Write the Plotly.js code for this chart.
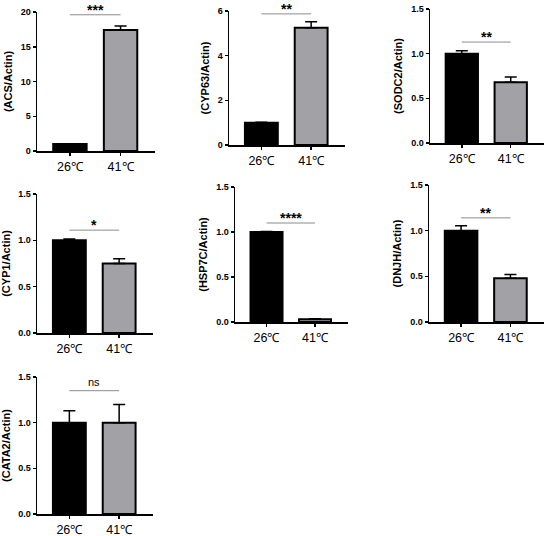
<!DOCTYPE html>
<html>
<head>
<meta charset="utf-8">
<script src="https://cdn.plot.ly/plotly-3.0.1.min.js"></script>
<style>html,body{margin:0;padding:0;background:#fff;}</style>
</head>
<body>
<div id="chart" style="width:550px;height:536px;"></div>
<script>
const genes = ['ACS','CYP63','SODC2','CYP1','HSP7C','DNJH','CATA2'];
const groups = ['26℃','41℃'];
const mean26 = [1.0, 1.0, 1.0, 1.0, 1.0, 1.0, 1.0];
const mean41 = [17.4, 5.25, 0.68, 0.75, 0.03, 0.48, 1.0];
const err26 = [0.05, 0.02, 0.033, 0.015, 0.005, 0.055, 0.13];
const err41 = [0.6, 0.27, 0.06, 0.05, 0.005, 0.04, 0.2];
const sigText = ['***','**','**','*','****','**','ns'];
const sigLevel = [19.6, 5.87, 1.13, 1.11, 1.10, 1.14, 1.35];
const yMax = [20, 6, 1.5, 1.5, 1.5, 1.5, 1.5];
const yStep = [5, 2, 0.5, 0.5, 0.5, 0.5, 0.5];

// panel boxes in pixels: [left, right, top, bottom]
const boxes = [[37,155,12,151],[229,345,11,145],[430,544,9,143],
               [37,153,194,333],[235,348,187,322],[429,544,185,322],
               [37,153,377,514]];
const W = 550, H = 536;
const FONT = '"Liberation Sans", Arial, sans-serif';

const data = [];
const layout = {
  width: W, height: H,
  margin: {l:0, r:0, t:0, b:0},
  paper_bgcolor: '#fff', plot_bgcolor: '#fff',
  showlegend: false,
  font: {family: FONT, color: '#000'},
  shapes: [], annotations: []
};

genes.forEach((g, i) => {
  const n = i === 0 ? '' : String(i + 1);
  const xa = 'x' + n, ya = 'y' + n;
  data.push({
    type: 'bar', x: groups, y: [mean26[i], mean41[i]],
    xaxis: xa, yaxis: ya, width: 0.66,
    marker: {color: ['#000000', '#a2a2a6'], line: {color: '#000', width: 2}},
    error_y: {type: 'data', symmetric: false, array: [err26[i], err41[i]],
              arrayminus: [0, 0], color: '#000', thickness: 1.5, width: 6},
    cliponaxis: false, hoverinfo: 'skip'
  });
  const b = boxes[i];
  layout['xaxis' + n] = {
    domain: [b[0] / W, b[1] / W], anchor: ya,
    range: [-0.65, 1.68], type: 'category',
    showline: true, linecolor: '#000', linewidth: 1.5,
    ticks: 'outside', ticklen: 3, tickwidth: 1.5, tickcolor: '#000',
    tickfont: {family: FONT, size: 12.5, color: '#000'},
    showgrid: false, zeroline: false, fixedrange: true
  };
  layout['yaxis' + n] = {
    domain: [1 - b[3] / H, 1 - b[2] / H], anchor: xa,
    range: [0, yMax[i]], dtick: yStep[i], tick0: 0,
    tickformat: yStep[i] < 1 ? '.1f' : 'd',
    showline: true, linecolor: '#000', linewidth: 1.5,
    ticks: 'outside', ticklen: 3, tickwidth: 1.5, tickcolor: '#000',
    tickfont: {family: FONT, size: 9, color: '#000', weight: 'bold'},
    showgrid: false, zeroline: false, fixedrange: true,
    title: {text: '(' + g + '/Actin)', standoff: 6,
            font: {family: FONT, size: 11, color: '#000', weight: 'bold'}}
  };
  layout.shapes.push({
    type: 'line', xref: xa, yref: ya,
    x0: 0, x1: 1, y0: sigLevel[i], y1: sigLevel[i],
    line: {color: '#8c8c8c', width: 1}
  });
  const isNs = sigText[i] === 'ns';
  layout.annotations.push({
    xref: xa, yref: ya, x: 0.5, y: sigLevel[i],
    text: sigText[i], showarrow: false, yanchor: 'bottom',
    yshift: isNs ? 1 : -5,
    font: {family: FONT, size: isNs ? 11 : 14, color: '#000',
           weight: isNs ? 'normal' : 'bold'}
  });
});

Plotly.newPlot('chart', data, layout, {staticPlot: true, displayModeBar: false});
</script>
</body>
</html>
